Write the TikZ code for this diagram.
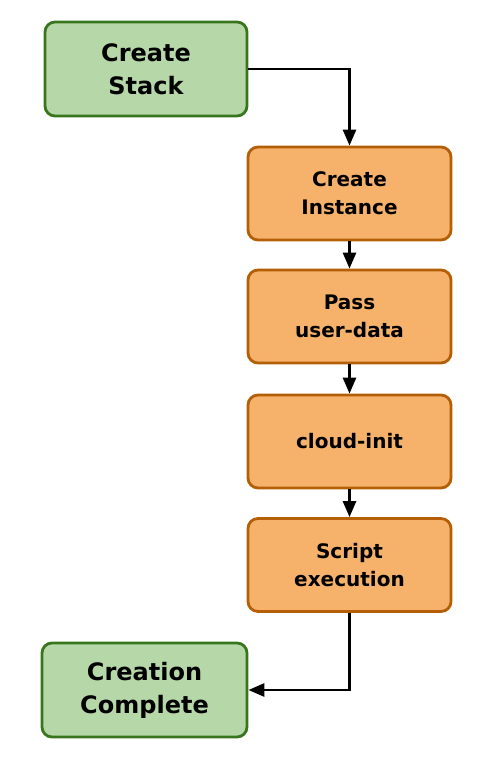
\documentclass[tikz,border=0pt]{standalone}
\usepackage{fontspec}
\setmainfont{DejaVu Sans}
\usetikzlibrary{arrows.meta}
\definecolor{gfill}{HTML}{B6D7A8}
\definecolor{gdraw}{HTML}{38761D}
\definecolor{ofill}{HTML}{F6B26B}
\definecolor{odraw}{HTML}{B45F06}
\begin{document}
\begin{tikzpicture}[x=1pt,y=-1pt,
  greenbox/.style={draw=gdraw,fill=gfill,line width=2.8pt,rounded corners=10pt,
    minimum width=202pt,minimum height=94pt,align=center,inner sep=0pt,
    font=\fontsize{24}{33}\selectfont\bfseries},
  orangebox/.style={draw=odraw,fill=ofill,line width=2.8pt,rounded corners=10pt,
    minimum width=203pt,minimum height=93pt,align=center,inner sep=0pt,
    font=\fontsize{20}{28}\selectfont\bfseries},
  conn/.style={line width=2.8pt,-{Triangle[length=16pt,width=13pt]}}]
\useasboundingbox (0,0) rectangle (488,770);
\node[greenbox] (stack) at (146,69) {Create\\Stack};
\node[orangebox] (inst) at (349.5,193.5) {Create\\Instance};
\node[orangebox] (pass) at (349.5,316.5) {Pass\\user-data};
\node[orangebox] (cloud) at (349.5,441.5) {cloud-init};
\node[orangebox] (script) at (349.5,565) {Script\\execution};
\node[greenbox, minimum width=205pt] (done) at (144.5,690) {Creation\\Complete};
\draw[conn] (stack.east) -| (inst.north);
\draw[conn] (inst) -- (pass);
\draw[conn] (pass) -- (cloud);
\draw[conn] (cloud) -- (script);
\draw[conn] (script.south) |- (done.east);
\end{tikzpicture}
\end{document}
